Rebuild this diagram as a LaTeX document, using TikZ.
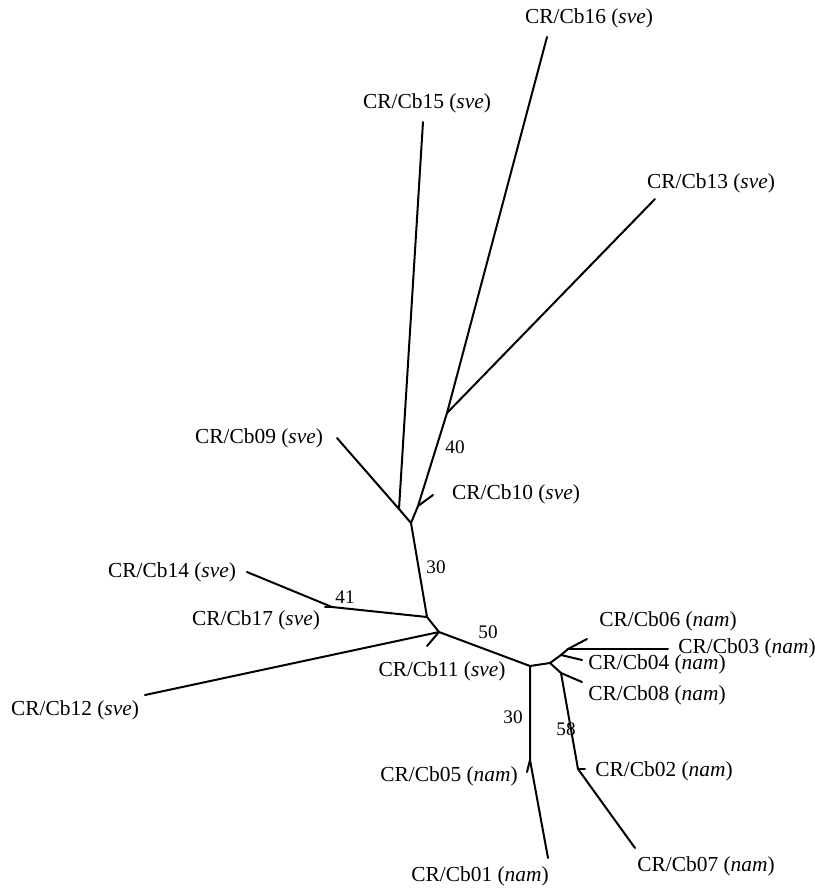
\documentclass[tikz,border=0pt]{standalone}
\usepackage{fontspec}
\setmainfont{Liberation Serif}
\usetikzlibrary{positioning}
\tikzset{
  branch/.style={line width=1pt, line cap=round, line join=round},
  taxon/.style={font=\fontsize{10.7}{13}\selectfont, inner sep=0pt},
  boot/.style={font=\fontsize{9.6}{11}\selectfont, inner sep=0pt}
}
\newcommand{\strain}[2]{CR/Cb#1 (\textit{#2})}

\begin{document}
\begin{tikzpicture}[x=0.5pt,y=-0.5pt]
  \useasboundingbox (0,0) rectangle (815,891);
  % internal nodes
  \coordinate (n1) at (411,523);
  \coordinate (n2) at (399,509);
  \coordinate (n3) at (418,506);
  \coordinate (n4) at (447,413);
  \coordinate (n5) at (427,617);
  \coordinate (n6) at (332,607);
  \coordinate (n7) at (439,632);
  \coordinate (n8) at (530,666);
  \coordinate (n9) at (530,760);
  \coordinate (n10) at (550,663);
  \coordinate (n11) at (561,655);
  \coordinate (n11b) at (568,649);
  \coordinate (n12) at (561,673);
  \coordinate (n13) at (578,769);
  % tips
  \coordinate (t16) at (547,37);
  \coordinate (t15) at (423,122);
  \coordinate (t13) at (655,199);
  \coordinate (t09) at (337,438);
  \coordinate (t10) at (433,495);
  \coordinate (t14) at (247,572);
  \coordinate (t17) at (325,607);
  \coordinate (t12) at (145,695);
  \coordinate (t11) at (427,646);
  \coordinate (t06) at (587,639);
  \coordinate (t03) at (668,649);
  \coordinate (t04) at (582,660);
  \coordinate (t08) at (582,682);
  \coordinate (t02) at (585,769);
  \coordinate (t07) at (635,848);
  \coordinate (t05) at (527,772);
  \coordinate (t01) at (548,858);

  \draw[branch] (t09) -- (n2) -- (n1) -- (n3) -- (n4) -- (t16);
  \draw[branch] (n2) -- (t15);
  \draw[branch] (n4) -- (t13);
  \draw[branch] (n3) -- (t10);
  \draw[branch] (n1) -- (n5) -- (n6) -- (t14);
  \draw[branch] (n6) -- (t17);
  \draw[branch] (n5) -- (n7) -- (n8) -- (n10) -- (n11) -- (n11b) -- (t06);
  \draw[branch] (t12) -- (n7) -- (t11);
  \draw[branch] (n11b) -- (t03);
  \draw[branch] (n11) -- (t04);
  \draw[branch] (n10) -- (n12) -- (t08);
  \draw[branch] (n12) -- (n13) -- (t07);
  \draw[branch] (n13) -- (t02);
  \draw[branch] (n8) -- (n9) -- (t01);
  \draw[branch] (n9) -- (t05);

  % strain labels
  \node[taxon] (l16) at (589,18) {\strain{16}{sve}};
  \node[taxon] (l15) at (427,103) {\strain{15}{sve}};
  \node[taxon] (l13) at (711,183) {\strain{13}{sve}};
  \node[taxon] (l09) at (259,438) {\strain{09}{sve}};
  \node[taxon] (l10) at (516,494) {\strain{10}{sve}};
  \node[taxon] (l14) at (172,572) {\strain{14}{sve}};
  \node[taxon] (l17) at (256,620) {\strain{17}{sve}};
  \node[taxon] (l12) at (75,710) {\strain{12}{sve}};
  \node[taxon] (l11) at (442,671) {\strain{11}{sve}};
  \node[taxon] (l06) at (668,621) {\strain{06}{nam}};
  \node[taxon] (l03) at (747,648) {\strain{03}{nam}};
  \node[taxon] (l04) at (657,664) {\strain{04}{nam}};
  \node[taxon] (l08) at (657,695) {\strain{08}{nam}};
  \node[taxon] (l02) at (664,771) {\strain{02}{nam}};
  \node[taxon] (l07) at (706,866) {\strain{07}{nam}};
  \node[taxon] (l05) at (449,776) {\strain{05}{nam}};
  \node[taxon] (l01) at (480,876) {\strain{01}{nam}};

  % bootstrap values
  \node[boot] (b40) at (455,447) {40};
  \node[boot] (b30a) at (436,567) {30};
  \node[boot] (b41) at (345,597) {41};
  \node[boot] (b50) at (488,632) {50};
  \node[boot] (b30b) at (513,717) {30};
  \node[boot] (b58) at (566,729) {58};
\end{tikzpicture}
\end{document}
